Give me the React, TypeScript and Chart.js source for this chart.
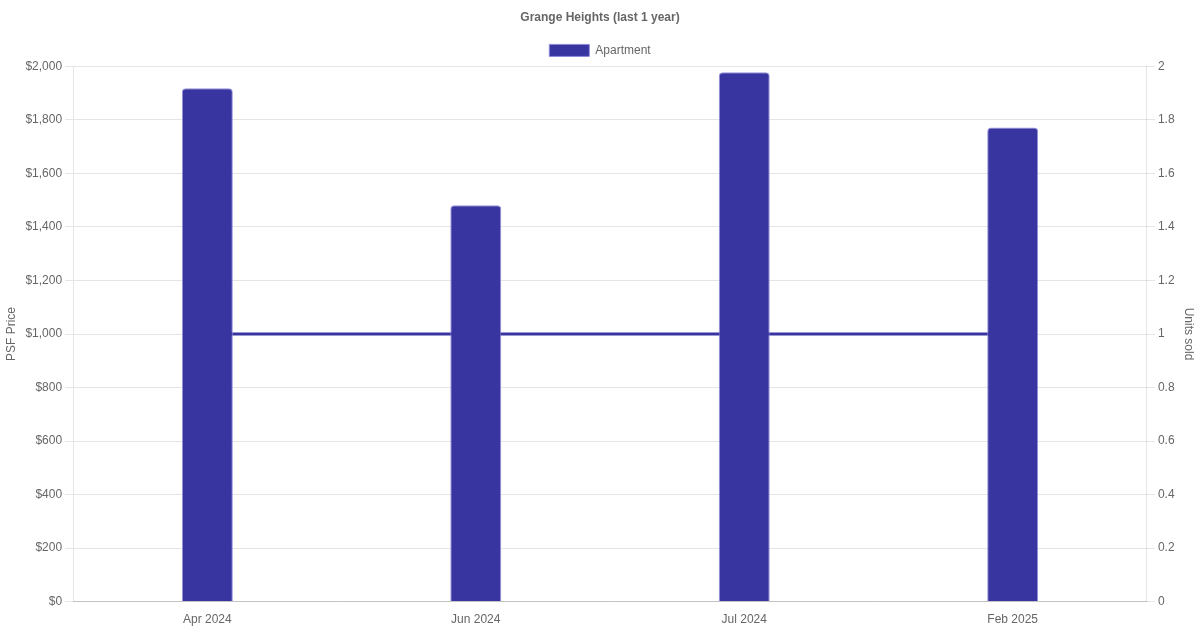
import React, { useEffect, useRef } from "react";
import { Chart, registerables } from "chart.js";

Chart.register(...registerables);

const categories = ["Apr 2024", "Jun 2024", "Jul 2024", "Feb 2025"];
const psfPrices = [1918, 1481, 1978, 1772];
const unitsSold = [1, 1, 1, 1];
const leftTicks = [0, 200, 400, 600, 800, 1000, 1200, 1400, 1600, 1800, 2000];

const BAR = "rgb(56,52,160)";

export default function App() {
  const ref = useRef<HTMLCanvasElement | null>(null);
  useEffect(() => {
    if (!ref.current) return;
    Chart.defaults.font.family = "Liberation Sans, Arial, sans-serif";
    Chart.defaults.font.size = 12;
    Chart.defaults.color = "#666";
    const chart = new Chart(ref.current, {
      data: {
        labels: categories,
        datasets: [
          {
            type: "line",
            label: "Units sold",
            data: unitsSold,
            yAxisID: "y1",
            borderColor: BAR,
            backgroundColor: BAR,
            borderWidth: 3,
            pointRadius: 0,
            order: 2,
          },
          {
            type: "bar",
            label: "Apartment",
            data: psfPrices,
            yAxisID: "y",
            backgroundColor: BAR,
            borderColor: "rgba(140,135,220,0.9)",
            borderWidth: 1,
            borderRadius: 4,
            borderSkipped: "bottom",
            maxBarThickness: 51,
            order: 1,
          },
        ],
      },
      options: {
        animation: false,
        responsive: true,
        maintainAspectRatio: false,
        plugins: {
          title: {
            display: true,
            text: "Grange Heights (last 1 year)",
            font: { size: 12, weight: "bold" },
            color: "#666",
          },
          legend: {
            labels: {
              filter: (item: any) => item.text === "Apartment",
              color: "#666",
            },
          },
          tooltip: { enabled: false },
        },
        scales: {
          x: {
            grid: { display: false },
            border: { display: true, color: "rgba(0,0,0,0.15)" },
            ticks: { color: "#666" },
          },
          y: {
            position: "left",
            min: 0,
            max: 2000,
            afterBuildTicks: (axis: any) => {
              axis.ticks = leftTicks.map((v) => ({ value: v }));
            },
            ticks: {
              color: "#666",
              callback: (v: any) => "$" + Number(v).toLocaleString("en-US"),
            },
            grid: { color: "rgba(0,0,0,0.1)" },
            title: { display: true, text: "PSF Price", color: "#666" },
          },
          y1: {
            position: "right",
            min: 0,
            max: 2,
            ticks: {
              stepSize: 0.2,
              color: "#666",
              callback: (v: any) => String(Math.round(Number(v) * 10) / 10),
            },
            grid: { drawOnChartArea: false, color: "rgba(0,0,0,0.1)" },
            title: { display: true, text: "Units sold", color: "#666" },
          },
        },
      },
    } as any);
    return () => chart.destroy();
  }, []);
  return (
    <div style={{ position: "fixed", left: 0, top: 0, width: 1200, height: 630, background: "#fff" }}>
      <canvas ref={ref} />
    </div>
  );
}
